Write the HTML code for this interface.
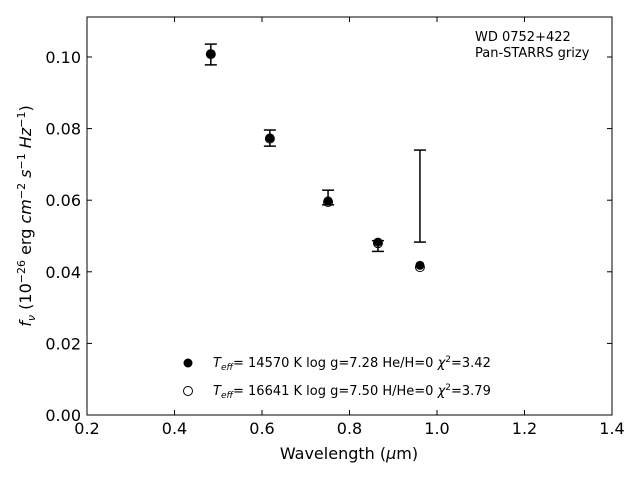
<!DOCTYPE html>
<html><head><meta charset="utf-8"><style>
body{margin:0;background:#fff;}
svg text{font-family:"DejaVu Sans","Liberation Sans",sans-serif;}
</style></head><body>
<svg id="chart" width="640" height="480" xmlns="http://www.w3.org/2000/svg">
<rect x="0" y="0" width="640" height="480" fill="#fff"/>
<g id="marks"></g>
<g id="axes"></g>
<rect x="87" y="17" width="525" height="398" fill="none" stroke="#000" stroke-width="1"/>
<text x="475" y="41" font-size="13">WD 0752+422</text>
<text x="475" y="57" font-size="13">Pan-STARRS grizy</text>
<text x="349" y="459" font-size="16" text-anchor="middle">Wavelength (<tspan font-style="italic">μ</tspan>m)</text>
<text transform="translate(31,216) rotate(-90)" font-size="16" text-anchor="middle"><tspan font-style="italic">f<tspan font-size="11" dy="4">ν</tspan></tspan><tspan dy="-4"> (10</tspan><tspan font-size="11" dy="-6">−26</tspan><tspan dy="6"> erg </tspan><tspan font-style="italic">cm</tspan><tspan font-size="11" dy="-6">−2</tspan><tspan dy="6" font-style="italic"> s</tspan><tspan font-size="11" dy="-6">−1</tspan><tspan dy="6" font-style="italic"> Hz</tspan><tspan font-size="11" dy="-6">−1</tspan><tspan dy="6">)</tspan></text>
<g>
<circle cx="188" cy="363" r="4.5" fill="#000"/>
<text x="213" y="367" font-size="13"><tspan font-style="italic">T</tspan><tspan font-size="9" dy="3" font-style="italic">eff</tspan><tspan dy="-3">= 14570 K  log g=7.28  He/H=0  </tspan><tspan font-style="italic">χ</tspan><tspan font-size="9" dy="-5">2</tspan><tspan dy="5">=3.42</tspan></text>
<circle cx="188" cy="391" r="4.5" fill="#fff" stroke="#000" stroke-width="1"/>
<text x="213" y="395" font-size="13"><tspan font-style="italic">T</tspan><tspan font-size="9" dy="3" font-style="italic">eff</tspan><tspan dy="-3">= 16641 K  log g=7.50  H/He=0  </tspan><tspan font-style="italic">χ</tspan><tspan font-size="9" dy="-5">2</tspan><tspan dy="5">=3.79</tspan></text>
</g>
</svg>
<script>
const wavelengths=[0.483,0.618,0.751,0.865,0.961];
const obsLow=[0.0978,0.0751,0.0587,0.0457,0.0483];
const obsHigh=[0.1036,0.0796,0.0628,0.0487,0.0740];
const modelHe=[0.1008,0.0774,0.0598,0.0483,0.0418];
const modelH=[0.1008,0.0772,0.0595,0.0480,0.0413];
const xTicks=[0.2,0.4,0.6,0.8,1.0,1.2,1.4];
const xTickLabels=["0.2","0.4","0.6","0.8","1.0","1.2","1.4"];
const yTicks=[0,0.02,0.04,0.06,0.08,0.10];
const yTickLabels=["0.00","0.02","0.04","0.06","0.08","0.10"];
const X=v=>87+(v-0.2)/1.2*525;
const Y=v=>415-v*3580;
const NS="http://www.w3.org/2000/svg";
const marks=document.getElementById('marks'),axes=document.getElementById('axes');
function mk(tag,attrs,parent){const e=document.createElementNS(NS,tag);for(const k in attrs)e.setAttribute(k,attrs[k]);parent.appendChild(e);return e;}
wavelengths.forEach((w,i)=>{
  const x=X(w);
  const c2=mk('circle',{cx:x,cy:Y(modelH[i]),r:4.5,fill:'#fff',stroke:'#000','stroke-width':1},marks);
  
  
  const c1=mk('circle',{cx:x,cy:Y(modelHe[i]),r:4.5,fill:'#000'},marks);
  
  
  const g=mk('g',{stroke:'#000','stroke-width':1.5},marks);
  
  
  mk('line',{x1:x,x2:x,y1:Y(obsLow[i]),y2:Y(obsHigh[i])},g);
  mk('line',{x1:x-6,x2:x+6,y1:Y(obsLow[i]),y2:Y(obsLow[i])},g);
  mk('line',{x1:x-6,x2:x+6,y1:Y(obsHigh[i]),y2:Y(obsHigh[i])},g);
});
xTicks.forEach((t,i)=>{
  const x=X(t);
  mk('line',{x1:x,x2:x,y1:415,y2:410,stroke:'#000'},axes);
  mk('line',{x1:x,x2:x,y1:17,y2:22,stroke:'#000'},axes);
  const tx=mk('text',{x:x,y:434,'font-size':16,'text-anchor':'middle'},axes);
  
  
  tx.textContent=xTickLabels[i];
});
yTicks.forEach((t,i)=>{
  const y=Y(t);
  mk('line',{x1:87,x2:92,y1:y,y2:y,stroke:'#000'},axes);
  mk('line',{x1:612,x2:607,y1:y,y2:y,stroke:'#000'},axes);
  const tx=mk('text',{x:81,y:y+6,'font-size':16,'text-anchor':'end'},axes);
  
  
  tx.textContent=yTickLabels[i];
});
</script>
</body></html>
